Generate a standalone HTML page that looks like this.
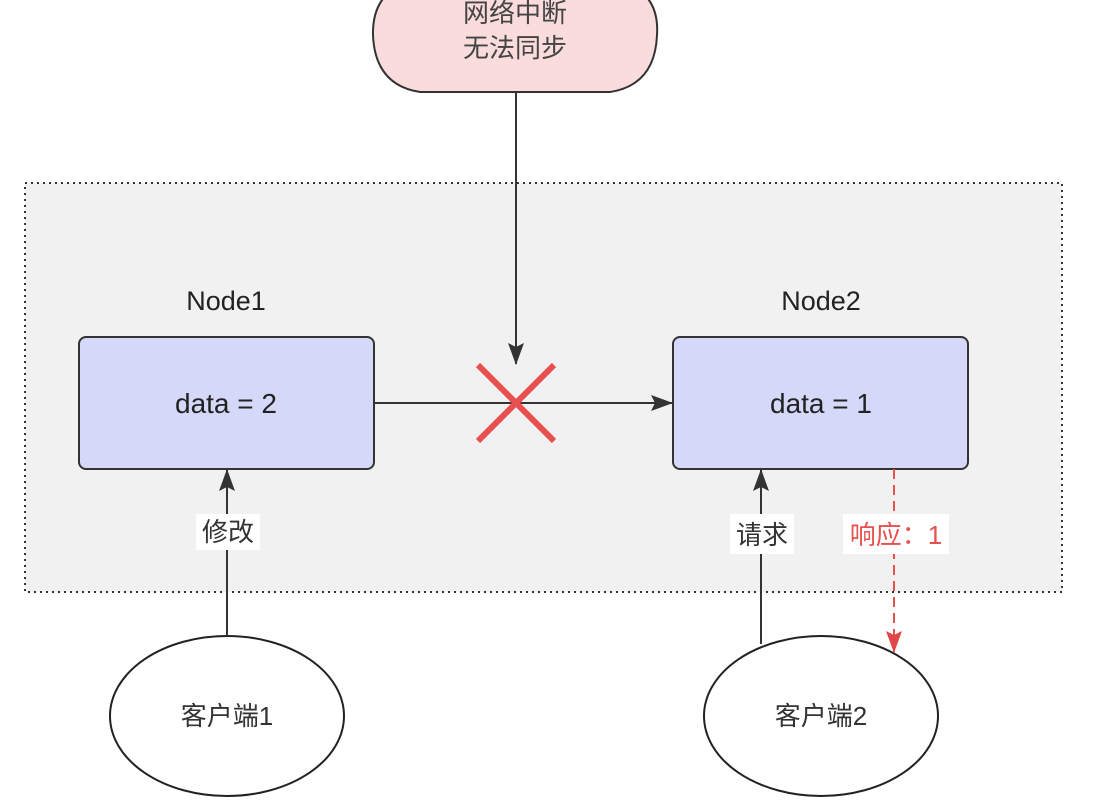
<!DOCTYPE html>
<html><head><meta charset="utf-8"><style>
html,body{margin:0;padding:0;background:#fff;}
svg{display:block;}
text{font-family:"Liberation Sans","Noto Sans CJK SC",sans-serif;}
</style></head><body>
<svg width="1098" height="803" viewBox="0 0 1098 803" xmlns="http://www.w3.org/2000/svg">
<defs>
<marker id="ah" markerWidth="22" markerHeight="16" refX="21" refY="8" orient="auto" markerUnits="userSpaceOnUse" viewBox="0 0 22 16">
<path d="M0,0 L22,8 L0,16 L4,8 z" fill="#333"/></marker>
<marker id="ahr" markerWidth="22" markerHeight="16" refX="21" refY="8" orient="auto" markerUnits="userSpaceOnUse" viewBox="0 0 22 16">
<path d="M0,0 L22,8 L0,16 L4,8 z" fill="#e04848"/></marker>
</defs>
<rect x="25" y="183" width="1037" height="409" fill="#f1f1f1" stroke="#333" stroke-width="2" stroke-dasharray="2,4"/>
<path d="M415,-20 L615,-20 Q660,-10 657,35 Q655,85 610,92 L420,92 Q375,85 373,35 Q372,-10 415,-20 Z" fill="#f9dcdb" stroke="#333" stroke-width="2"/>
<text x="515" y="22" font-size="26" fill="#444" text-anchor="middle">网络中断</text>
<text x="515" y="57" font-size="26" fill="#444" text-anchor="middle">无法同步</text>
<line x1="516" y1="92" x2="516" y2="364" stroke="#333" stroke-width="2" marker-end="url(#ah)"/>
<text x="226" y="310" font-size="27" fill="#222" text-anchor="middle">Node1</text>
<text x="821" y="310" font-size="27" fill="#222" text-anchor="middle">Node2</text>
<rect x="79" y="337" width="295" height="132" rx="7" fill="#d5d8f8" stroke="#333" stroke-width="2"/>
<rect x="673" y="337" width="295" height="132" rx="7" fill="#d5d8f8" stroke="#333" stroke-width="2"/>
<text x="226" y="413" font-size="28" fill="#222" text-anchor="middle">data = 2</text>
<text x="821" y="413" font-size="28" fill="#222" text-anchor="middle">data = 1</text>
<line x1="374" y1="403" x2="672" y2="403" stroke="#333" stroke-width="2" marker-end="url(#ah)"/>
<line x1="478" y1="365" x2="554" y2="441" stroke="#e85050" stroke-width="6"/>
<line x1="554" y1="365" x2="478" y2="441" stroke="#e85050" stroke-width="6"/>
<ellipse cx="227" cy="716" rx="117" ry="80" fill="#fff" stroke="#222" stroke-width="2"/>
<ellipse cx="821" cy="716" rx="117" ry="80" fill="#fff" stroke="#222" stroke-width="2"/>
<text x="227" y="725" font-size="26" fill="#333" text-anchor="middle">客户端1</text>
<text x="821" y="725" font-size="26" fill="#333" text-anchor="middle">客户端2</text>
<line x1="227" y1="636" x2="227" y2="470" stroke="#333" stroke-width="2" marker-end="url(#ah)"/>
<rect x="196" y="514" width="64" height="36" fill="#fff"/>
<text x="228" y="541" font-size="26" fill="#333" text-anchor="middle">修改</text>
<line x1="761" y1="644" x2="761" y2="470" stroke="#333" stroke-width="2" marker-end="url(#ah)"/>
<rect x="730" y="514" width="64" height="40" fill="#fff"/>
<text x="762" y="544" font-size="26" fill="#333" text-anchor="middle">请求</text>
<line x1="894" y1="469" x2="894" y2="652" stroke="#e85050" stroke-width="2" stroke-dasharray="10,6" marker-end="url(#ahr)"/>
<rect x="843" y="514" width="106" height="40" fill="#fff"/>
<text x="896" y="544" font-size="26" fill="#e85050" text-anchor="middle">响应：1</text>
</svg>
</body></html>
